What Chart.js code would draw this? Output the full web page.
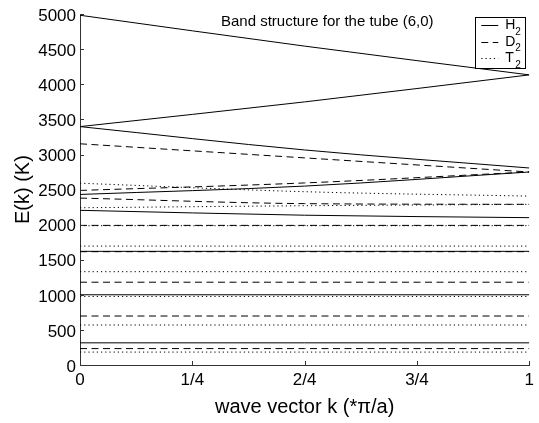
<!DOCTYPE html>
<html>
<head>
<meta charset="utf-8">
<script src="https://cdn.jsdelivr.net/npm/chart.js@4"></script>
<style>
  html, body { margin: 0; padding: 0; background: #fff; }
</style>
</head>
<body>
<canvas id="c" width="539" height="423"></canvas>
<script>
const kPoints = [0, 0.5, 1];
const xTickLabels = ['0', '1/4', '2/4', '3/4', '1'];

// energies (K) at kPoints, one row per band
const H2 = [
  [4985, 4545, 4135],
  [3398, 3750, 4135],
  [3398, 3065, 2808],
  [2431, 2550, 2751],
  [2205, 2135, 2100],
  [1620, 1620, 1620],
  [1001, 1001, 1001],
  [316, 316, 316],
];
const D2 = [
  [3153, 2952, 2751],
  [2488, 2595, 2751],
  [2379, 2300, 2290],
  [1990, 1990, 1990],
  [1615, 1615, 1615],
  [1180, 1180, 1180],
  [698, 698, 698],
  [234, 234, 234],
];
const T2 = [
  [2591, 2470, 2407],
  [2241, 2270, 2290],
  [1985, 1985, 1985],
  [1695, 1695, 1695],
  [1330, 1330, 1330],
  [977, 977, 977],
  [570, 570, 570],
  [184, 184, 184],
];

const FONT = "'Liberation Sans', Arial, Helvetica, sans-serif";
const SOLID = [];
const DASHED = [7, 4.5];
const DOTTED = [1.2, 3];

function bandSets(bands, dash, name) {
  return bands.map(vals => ({
    label: name,
    data: kPoints.map((k, j) => ({ x: k, y: vals[j] })),
    borderColor: '#000',
    borderWidth: 1,
    borderDash: dash,
    pointRadius: 0,
    cubicInterpolationMode: 'monotone',
    fill: false,
  }));
}

// ticks point into the plot, matlab style
const inwardTicks = {
  id: 'inwardTicks',
  afterDraw(chart) {
    const { ctx, scales: { x, y }, chartArea } = chart;
    ctx.save();
    ctx.strokeStyle = '#333';
    ctx.lineWidth = 1;
    ctx.beginPath();
    y.ticks.forEach(t => {
      const py = Math.round(y.getPixelForValue(t.value)) + 0.5;
      ctx.moveTo(chartArea.left, py);
      ctx.lineTo(chartArea.left + 4, py);
    });
    x.ticks.forEach(t => {
      const px = Math.round(x.getPixelForValue(t.value)) + 0.5;
      ctx.moveTo(px, chartArea.bottom);
      ctx.lineTo(px, chartArea.bottom - 4);
    });
    ctx.stroke();
    ctx.restore();
  }
};

// title inside the axes + boxed legend top right
const insideText = {
  id: 'insideText',
  afterDatasetsDraw(chart) {
    const { ctx, chartArea } = chart;
    ctx.save();
    ctx.fillStyle = '#000';
    ctx.font = '15px ' + FONT;
    ctx.textBaseline = 'alphabetic';
    ctx.textAlign = 'left';
    ctx.fillText('Band structure for the tube (6,0)', chartArea.left + 141, chartArea.top + 12);

    const w = 50, h = 51;
    const x0 = chartArea.right - 4 - w, y0 = chartArea.top + 3;
    ctx.fillStyle = '#fff';
    ctx.fillRect(x0, y0, w, h);
    ctx.strokeStyle = '#000';
    ctx.lineWidth = 1;
    ctx.strokeRect(Math.round(x0) + 0.5, Math.round(y0) + 0.5, w, h);

    const rows = [['H', SOLID], ['D', DASHED], ['T', DOTTED]];
    rows.forEach(([txt, dash], i) => {
      const ry = y0 + 8 + i * 16.5;
      ctx.setLineDash(dash);
      ctx.beginPath();
      ctx.moveTo(x0 + 6, Math.round(ry) + 0.5);
      ctx.lineTo(x0 + 23, Math.round(ry) + 0.5);
      ctx.stroke();
      ctx.setLineDash([]);
      ctx.fillStyle = '#000';
      ctx.textBaseline = 'middle';
      ctx.font = '14px ' + FONT;
      ctx.fillText(txt, x0 + 30, ry);
      ctx.font = '10px ' + FONT;
      ctx.fillText('2', x0 + 40, ry + 7);
    });
    ctx.restore();
  }
};

new Chart(document.getElementById('c'), {
  type: 'line',
  data: {
    datasets: [
      ...bandSets(H2, SOLID, 'H2'),
      ...bandSets(D2, DASHED, 'D2'),
      ...bandSets(T2, DOTTED, 'T2'),
    ],
  },
  options: {
    responsive: false,
    animation: false,
    layout: { padding: { top: 12, right: 8, left: 0, bottom: 0 } },
    plugins: { legend: { display: false }, tooltip: { enabled: false } },
    scales: {
      x: {
        type: 'linear',
        min: 0,
        max: 1,
        ticks: {
          stepSize: 0.25,
          callback: v => xTickLabels[Math.round(v * 4)],
          font: { family: FONT, size: 17 },
          color: '#000',
          padding: 5,
          maxRotation: 0,
        },
        grid: { display: false, drawTicks: false },
        border: { color: '#333', width: 1 },
        title: {
          display: true,
          text: 'wave vector k (*π/a)',
          font: { family: FONT, size: 20 },
          color: '#000',
          padding: { top: 0, bottom: 4 },
        },
        afterFit: s => { s.height = 58; },
      },
      y: {
        min: 0,
        max: 5000,
        ticks: {
          stepSize: 500,
          callback: v => String(v),
          font: { family: FONT, size: 17 },
          color: '#000',
          padding: 4,
          labelOffset: 2,
        },
        grid: { display: false, drawTicks: false },
        border: { color: '#333', width: 1 },
        title: {
          display: true,
          text: 'E(k) (K)',
          font: { family: FONT, size: 20 },
          color: '#000',
          padding: { top: 11, bottom: 0 },
        },
        afterFit: s => { s.width = 80; },
      },
    },
  },
  plugins: [inwardTicks, insideText],
});
</script>
</body>
</html>
